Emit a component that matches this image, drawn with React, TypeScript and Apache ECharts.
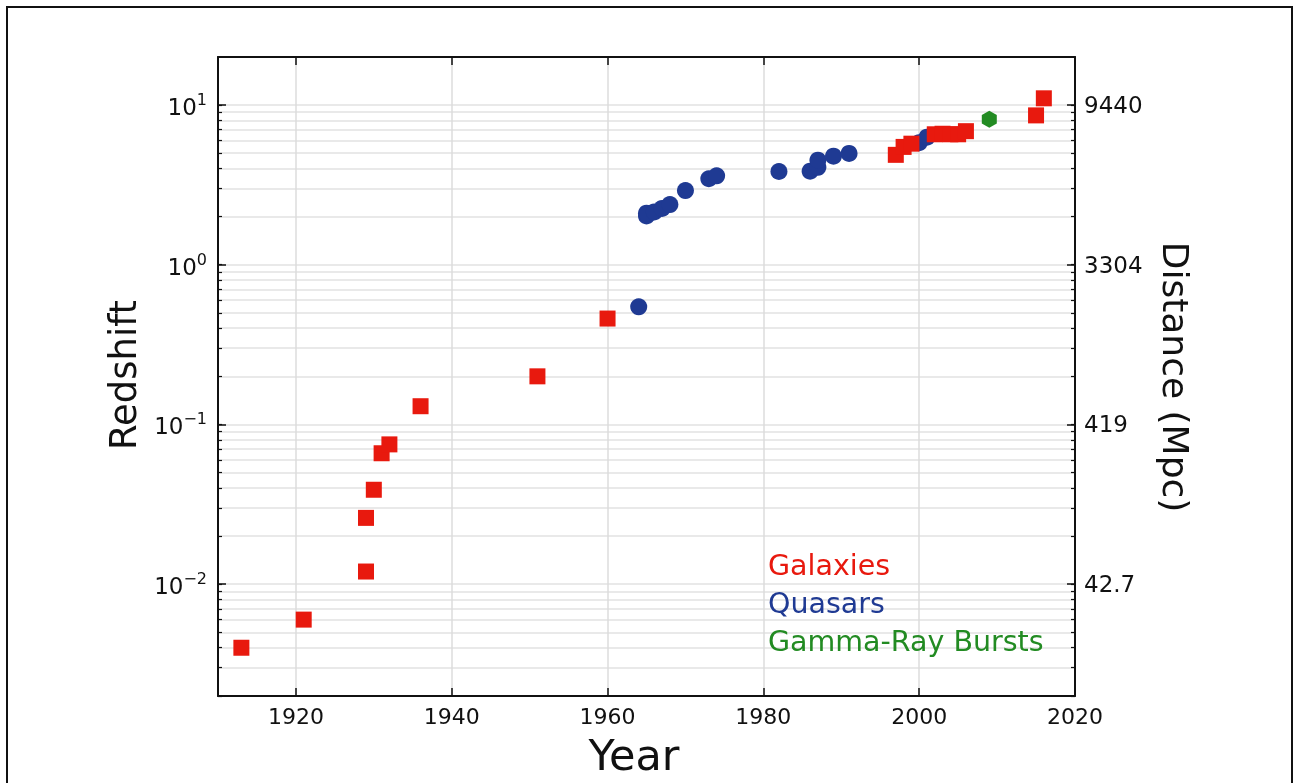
import React, { useEffect, useRef } from "react";
import * as echarts from "echarts";

const galaxyYears = [1913, 1921, 1929, 1929, 1930, 1931, 1932, 1936, 1951, 1960, 1997, 1998, 1999, 2002, 2003, 2004, 2005, 2006, 2015, 2016];
const galaxyZ = [0.004, 0.006, 0.012, 0.026, 0.039, 0.066, 0.075, 0.13, 0.2, 0.46, 4.87, 5.46, 5.72, 6.55, 6.6, 6.55, 6.55, 6.85, 8.6, 11.0];

const quasarYears = [1964, 1965, 1965, 1966, 1967, 1968, 1970, 1973, 1974, 1982, 1986, 1987, 1987, 1989, 1991, 2000, 2001];
const quasarZ = [0.545, 2.02, 2.1, 2.14, 2.25, 2.38, 2.91, 3.45, 3.6, 3.83, 3.85, 4.07, 4.51, 4.78, 4.97, 5.8, 6.28];

const grbYears = [2009];
const grbZ = [8.13];

const yearTicks = [1920, 1940, 1960, 1980, 2000, 2020];
const decades = [-2, -1, 0, 1];
const distanceLabels = ["42.7", "419", "3304", "9440"];
const minorMultipliers = [2, 3, 4, 5, 6, 7, 8, 9];
const minorDecades = [-3, -2, -1, 0, 1];

const RED = "#e8190e";
const BLUE = "#1f3a93";
const GREEN = "#228b22";
const FONT = "'DejaVu Sans', sans-serif";

const HEX = "path://M0,-1 L0.866,-0.5 L0.866,0.5 L0,1 L-0.866,0.5 L-0.866,-0.5 Z";

export default function App() {
  const ref = useRef<HTMLDivElement>(null);

  useEffect(() => {
    if (!ref.current) return;
    const chart = echarts.init(ref.current, undefined, { renderer: "svg" });

    const toPts = (xs: number[], zs: number[]) => xs.map((x, i) => [x, Math.log10(zs[i])]);
    const gridVals: number[] = [];
    minorDecades.forEach((d) => {
      gridVals.push(d);
      minorMultipliers.forEach((m) => gridVals.push(d + Math.log10(m)));
    });
    const gridInRange = gridVals.filter((v) => v >= -2.7 && v <= 1.3);

    const supExp = (e: number) => (e < 0 ? "\u2212" + -e : String(e));

    const yBase = {
      type: "value",
      min: -2.7,
      max: 1.3,
    };

    const option: any = {
      animation: false,
      textStyle: { fontFamily: FONT },
      grid: { left: 218, right: 224, top: 57, bottom: 87, containLabel: false },
      xAxis: [
        {
          type: "value",
          min: 1910,
          max: 2020,
          position: "bottom",
          axisLine: { show: true, onZero: false, lineStyle: { color: "#111", width: 2 } },
          axisTick: { show: true, inside: true, length: 8, customValues: yearTicks, lineStyle: { color: "#111", width: 1.5 } },
          axisLabel: {
            customValues: yearTicks,
            fontFamily: FONT,
            fontSize: 22,
            color: "#111",
            margin: 9,
            formatter: (v: number) => String(Math.round(v)),
          },
          splitLine: { show: true, lineStyle: { color: "#dcdcdc", width: 1.5 } },
        },
        {
          type: "value",
          min: 1910,
          max: 2020,
          position: "top",
          axisLine: { show: true, onZero: false, lineStyle: { color: "#111", width: 2 } },
          axisTick: { show: true, inside: true, length: 8, customValues: yearTicks, lineStyle: { color: "#111", width: 1.5 } },
          axisLabel: { show: false },
          splitLine: { show: false },
        },
      ],
      yAxis: [
        {
          ...yBase,
          position: "left",
          axisLine: { show: true, onZero: false, lineStyle: { color: "#111", width: 2 } },
          axisTick: { show: true, inside: true, length: 8, customValues: decades, lineStyle: { color: "#111", width: 1.5 } },
          axisLabel: {
            customValues: decades,
            margin: 11,
            formatter: (v: number) => `{b|10}{s|${supExp(Math.round(v))}}`,
            rich: {
              b: { fontFamily: FONT, fontSize: 23, color: "#111", verticalAlign: "bottom" },
              s: { fontFamily: FONT, fontSize: 16, color: "#111", verticalAlign: "bottom", padding: [0, 0, 11, 0] },
            },
          },
          splitLine: { show: false },
        },
        {
          ...yBase,
          position: "left",
          axisLine: { show: false },
          axisTick: { show: true, inside: true, length: 4, customValues: gridInRange, lineStyle: { color: "#111", width: 1.2 } },
          axisLabel: { show: false },
          splitLine: { show: true, lineStyle: { color: "#e2e2e2", width: 1.5 } },
        },
        {
          ...yBase,
          position: "right",
          axisLine: { show: true, onZero: false, lineStyle: { color: "#111", width: 2 } },
          axisTick: { show: true, inside: true, length: 8, customValues: decades, lineStyle: { color: "#111", width: 1.5 } },
          axisLabel: {
            customValues: decades,
            margin: 9,
            fontFamily: FONT,
            fontSize: 23,
            color: "#111",
            formatter: (v: number) => distanceLabels[decades.indexOf(Math.round(v))] ?? "",
          },
          splitLine: { show: false },
        },
        {
          ...yBase,
          position: "right",
          axisLine: { show: false },
          axisTick: { show: true, inside: true, length: 4, customValues: gridInRange, lineStyle: { color: "#111", width: 1.2 } },
          axisLabel: { show: false },
          splitLine: { show: false },
        },
      ],
      series: [
        {
          name: "Quasars",
          type: "scatter",
          data: toPts(quasarYears, quasarZ),
          symbol: "circle",
          symbolSize: 17,
          itemStyle: { color: BLUE, opacity: 1 },
        },
        {
          name: "Galaxies",
          type: "scatter",
          data: toPts(galaxyYears, galaxyZ),
          symbol: "rect",
          symbolSize: 16,
          itemStyle: { color: RED, opacity: 1 },
        },
        {
          name: "Gamma-Ray Bursts",
          type: "scatter",
          data: toPts(grbYears, grbZ),
          symbol: HEX,
          symbolSize: [15, 17],
          itemStyle: { color: GREEN, opacity: 1 },
        },
      ],
      graphic: [
        {
          type: "text",
          x: 123,
          y: 375,
          z: 100,
          rotation: Math.PI / 2,
          style: { text: "Redshift", fontFamily: FONT, fontSize: 37, fill: "#111", align: "center", verticalAlign: "middle" },
        },
        {
          type: "text",
          x: 1175,
          y: 377,
          z: 100,
          rotation: -Math.PI / 2,
          style: { text: "Distance (Mpc)", fontFamily: FONT, fontSize: 36, fill: "#111", align: "center", verticalAlign: "middle" },
        },
        {
          type: "text",
          x: 634,
          y: 755,
          z: 100,
          style: { text: "Year", fontFamily: FONT, fontSize: 43, fill: "#111", align: "center", verticalAlign: "middle" },
        },
        {
          type: "text",
          x: 768,
          y: 565,
          z: 100,
          style: { text: "Galaxies", fontFamily: FONT, fontSize: 28.5, fill: RED, align: "left", verticalAlign: "middle" },
        },
        {
          type: "text",
          x: 768,
          y: 603,
          z: 100,
          style: { text: "Quasars", fontFamily: FONT, fontSize: 28.5, fill: BLUE, align: "left", verticalAlign: "middle" },
        },
        {
          type: "text",
          x: 768,
          y: 641,
          z: 100,
          style: { text: "Gamma-Ray Bursts", fontFamily: FONT, fontSize: 28.5, fill: GREEN, align: "left", verticalAlign: "middle" },
        },
      ],
    };

    chart.setOption(option);
    return () => chart.dispose();
  }, []);

  return (
    <>
      <div
        style={{
          position: "fixed",
          left: 6,
          top: 6,
          width: 1287,
          height: 820,
          border: "2px solid #111",
          boxSizing: "border-box",
          pointerEvents: "none",
        }}
      />
      <div ref={ref} style={{ position: "fixed", left: 0, top: 0, width: 1299, height: 783 }} />
    </>
  );
}
